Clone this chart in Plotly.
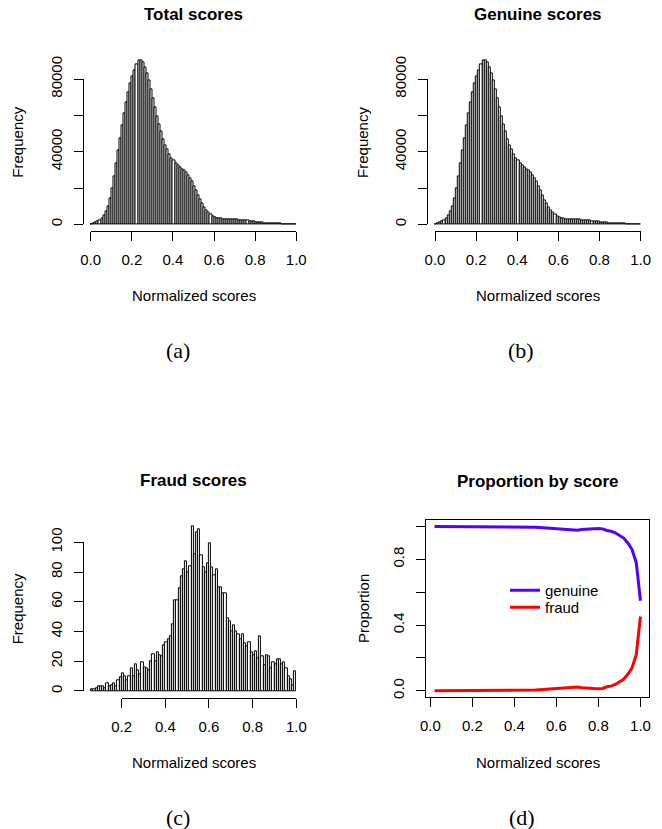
import numpy as np
import plotly.graph_objects as go

W, H = 662, 829

# ---------------- data ----------------
score_ticks = [0.0, 0.2, 0.4, 0.6, 0.8, 1.0]
score_ticktext = ["0.0", "0.2", "0.4", "0.6", "0.8", "1.0"]
fraud_xticks = [0.2, 0.4, 0.6, 0.8, 1.0]
fraud_xticktext = ["0.2", "0.4", "0.6", "0.8", "1.0"]
freq_ticks = [0, 20000, 40000, 60000, 80000]
freq_ticktext = ["0", "", "40000", "", "80000"]
fraud_yticks = [0, 20, 40, 60, 80, 100]
fraud_yticktext = ["0", "20", "40", "60", "80", "100"]
prop_ticks = [0.0, 0.2, 0.4, 0.6, 0.8, 1.0]
prop_ticktext = ["0.0", "", "0.4", "", "0.8", ""]

bin_width = 0.01
total_bin_left = np.round(np.arange(0.00, 1.00, bin_width), 2)   # 100 bins
fraud_bin_left = np.round(np.arange(0.06, 1.00, bin_width), 2)   # 94 bins

total_counts = [
    200, 500, 900, 1400, 2200, 3300, 4800, 7000, 10000, 14500,
    20000, 26500, 33500, 40500, 47500, 54500, 61000, 67000, 72500, 77500,
    81500, 85000, 88000, 90000, 90500, 89000, 86500, 83000, 79000, 74500,
    69500, 64500, 59500, 55000, 51000, 47000, 43500, 41000, 38500, 36500,
    35000, 33500, 32500, 31500, 30500, 29500, 28500, 27000, 25500, 23500,
    21000, 18500, 16000, 13500, 11500, 9500, 7800, 6400, 5300, 4500,
    3900, 3500, 3200, 3000, 2900, 2800, 2750, 2700, 2650, 2600,
    2550, 2450, 2350, 2250, 2150, 2050, 1900, 1750, 1600, 1450,
    1300, 1150, 1000, 880, 780, 680, 600, 520, 460, 400,
    350, 300, 260, 230, 200, 170, 150, 120, 100, 80,
]

genuine_counts = [
    200, 500, 900, 1400, 2200, 3300, 4800, 7000, 10000, 14500,
    20000, 26500, 33500, 40500, 47500, 54500, 61000, 67000, 72500, 77500,
    81500, 85000, 88000, 90000, 90500, 89000, 86500, 83000, 79000, 74500,
    69500, 64500, 59500, 55000, 51000, 47000, 43500, 41000, 38500, 36450,
    34950, 33450, 32450, 31450, 30450, 29450, 28430, 26920, 25420, 23410,
    20920, 18420, 15890, 13410, 11390, 9390, 7710, 6320, 5220, 4410,
    3800, 3420, 3120, 2920, 2830, 2730, 2680, 2630, 2600, 2550,
    2510, 2410, 2310, 2210, 2110, 2010, 1870, 1720, 1570, 1420,
    1280, 1120, 980, 850, 760, 660, 580, 500, 440, 380,
    330, 280, 240, 210, 180, 150, 140, 110, 95, 70,
]

fraud_counts = [
    1, 1, 2, 3, 3, 3, 2, 5, 3, 4,
    5, 3, 7, 9, 12, 10, 7, 10, 15, 10,
    18, 14, 11, 19, 16, 15, 14, 20, 25, 20,
    26, 24, 23, 31, 33, 35, 37, 45, 61, 61,
    69, 77, 82, 87, 80, 84, 111, 92, 107, 109,
    91, 83, 80, 86, 99, 83, 78, 82, 70, 70,
    66, 66, 49, 47, 40, 44, 40, 38, 35, 38,
    32, 30, 33, 26, 24, 27, 22, 37, 23, 17,
    24, 23, 15, 19, 18, 21, 21, 18, 19, 15,
    10, 8, 4, 13,
]

prop_scores = np.round(np.arange(0.02, 1.0001, 0.02), 2)   # 50 points
prop_genuine = [
    1.000, 1.000, 1.000, 1.000, 1.000, 1.000, 1.000, 1.000, 1.000, 1.000,
    1.000, 1.000, 1.000, 1.000, 1.000, 1.000, 1.000, 1.000, 1.000, 1.000,
    0.9995, 0.999, 0.998, 0.997, 0.996, 0.994, 0.992, 0.990, 0.988, 0.986,
    0.983, 0.980, 0.978, 0.977, 0.978, 0.982, 0.985, 0.986, 0.987, 0.988,
    0.986, 0.976, 0.972, 0.962, 0.948, 0.930, 0.900, 0.860, 0.780, 0.548,
]
prop_fraud = [
    0.000, 0.000, 0.000, 0.000, 0.000, 0.000, 0.000, 0.000, 0.000, 0.000,
    0.000, 0.000, 0.000, 0.000, 0.000, 0.000, 0.000, 0.000, 0.000, 0.000,
    0.0005, 0.001, 0.002, 0.003, 0.004, 0.006, 0.008, 0.010, 0.012, 0.014,
    0.017, 0.020, 0.022, 0.023, 0.022, 0.018, 0.015, 0.014, 0.013, 0.012,
    0.014, 0.024, 0.028, 0.038, 0.052, 0.070, 0.100, 0.140, 0.220, 0.452,
]

# ---------------- layout helpers ----------------
FONT = "Liberation Sans, Arial, sans-serif"
SERIF = "Liberation Serif, Times New Roman, serif"


def px_x(p):
    return p / W


def px_y(p):
    return 1 - p / H


fig = go.Figure()
annotations = []

axis_common = dict(
    showgrid=False, zeroline=False, showline=True, linecolor="black", linewidth=1,
    ticks="outside", ticklen=9, tickwidth=1, tickcolor="black", automargin=False,
    ticklabelstandoff=6,
    tickfont=dict(family=FONT, size=15, color="black"),
)


def hist_panel(idx, box, centers, counts, xr_data, vis_x, vis_y, xt, xtt, yt, ytt,
               title, caption, cap_xy):
    L, R, T, B = box
    M = max(counts)
    x0, x1 = xr_data
    y0, y1 = -0.04 * M, 1.04 * M
    dx, dy = f"x{idx}" if idx > 1 else "x", f"y{idx}" if idx > 1 else "y"
    vx, vy = f"x{idx + 1}", f"y{idx + 1}"
    fig.add_trace(go.Bar(
        x=centers, y=counts, width=bin_width, xaxis=dx, yaxis=dy,
        marker=dict(color="white", line=dict(color="black", width=1.0)),
        showlegend=False, hoverinfo="x+y",
    ))
    fig.add_trace(go.Scatter(x=[None], y=[None], xaxis=vx, yaxis=vy,
                             showlegend=False, hoverinfo="skip"))
    kx = "xaxis" if idx == 1 else f"xaxis{idx}"
    ky = "yaxis" if idx == 1 else f"yaxis{idx}"
    fig.layout[kx] = dict(domain=[px_x(L), px_x(R)], range=[x0, x1], visible=False,
                          anchor=dy, automargin=False)
    fig.layout[ky] = dict(domain=[px_y(B), px_y(T)], range=[y0, y1], visible=False,
                          anchor=dx, automargin=False)

    # visible (detached) axes, R style
    def xp(v):
        return L + (v - x0) / (x1 - x0) * (R - L)

    def yp(v):
        return B - (v - y0) / (y1 - y0) * (B - T)

    fig.layout[f"xaxis{idx + 1}"] = dict(
        domain=[px_x(xp(vis_x[0])), px_x(xp(vis_x[1]))], range=list(vis_x),
        anchor="free", position=px_y(B), tickvals=xt, ticktext=xtt, **axis_common)
    fig.layout[f"yaxis{idx + 1}"] = dict(
        domain=[px_y(yp(vis_y[0])), px_y(yp(vis_y[1]))], range=list(vis_y),
        anchor="free", position=px_x(L), tickvals=yt, ticktext=ytt, tickangle=-90,
        **axis_common)
    cx = (L + R) / 2
    annotations.append(dict(text=f"<b>{title}</b>", x=px_x(cx), y=px_y(T - 38.5),
                            font=dict(family=FONT, size=17, color="black")))
    annotations.append(dict(text="Normalized scores", x=px_x(cx), y=px_y(B + 65),
                            font=dict(family=FONT, size=15, color="black")))
    annotations.append(dict(text="Frequency", x=px_x(L - 65), y=px_y((T + B) / 2),
                            textangle=-90, font=dict(family=FONT, size=15, color="black")))
    annotations.append(dict(text=caption, x=px_x(cap_xy[0]), y=px_y(cap_xy[1]),
                            font=dict(family=SERIF, size=22, color="black")))


total_centers = total_bin_left + bin_width / 2
fraud_centers = fraud_bin_left + bin_width / 2

hist_panel(1, (82.5, 304.5, 53.4, 230.9), total_centers, total_counts, (-0.04, 1.04),
           (0, 1), (0, 80000), score_ticks, score_ticktext, freq_ticks, freq_ticktext,
           "Total scores", "(a)", (178, 350))
hist_panel(3, (426.8, 648.8, 53.4, 230.9), total_centers, genuine_counts, (-0.04, 1.04),
           (0, 1), (0, 80000), score_ticks, score_ticktext, freq_ticks, freq_ticktext,
           "Genuine scores", "(b)", (521, 350))
fx0 = 0.06 - 0.04 * 0.94
fx1 = 1.0 + 0.04 * 0.94
hist_panel(5, (82.9, 304.5, 519.3, 697.6), fraud_centers, fraud_counts, (fx0, fx1),
           (0.2, 1.0), (0, 100), fraud_xticks, fraud_xticktext, fraud_yticks,
           fraud_yticktext, "Fraud scores", "(c)", (178, 817))

# ---------------- panel (d) ----------------
L, R, T, B = 426.3, 648.7, 520.0, 697.3
fig.add_trace(go.Scatter(x=prop_scores, y=prop_genuine, mode="lines", name="genuine",
                         line=dict(color="#5500FF", width=3), xaxis="x7", yaxis="y7",
                         legend="legend"))
fig.add_trace(go.Scatter(x=prop_scores, y=prop_fraud, mode="lines", name="fraud",
                         line=dict(color="#FF0000", width=3), xaxis="x7", yaxis="y7",
                         legend="legend2"))
px0 = 0.02 - 0.04 * 0.98
px1 = 1.0 + 0.04 * 0.98
fig.layout["xaxis7"] = dict(domain=[px_x(L), px_x(R)], range=[px0, px1], anchor="y7",
                            mirror=True, tickvals=prop_ticks, ticktext=score_ticktext,
                            **axis_common)
fig.layout["yaxis7"] = dict(domain=[px_y(B), px_y(T)], range=[-0.04, 1.04], anchor="x7",
                            mirror=True, tickvals=prop_ticks, ticktext=prop_ticktext,
                            tickangle=-90, **axis_common)
cx = (L + R) / 2
annotations.append(dict(text="<b>Proportion by score</b>", x=px_x(cx), y=px_y(T - 38.5),
                        font=dict(family=FONT, size=17, color="black")))
annotations.append(dict(text="Normalized scores", x=px_x(cx), y=px_y(B + 65),
                        font=dict(family=FONT, size=15, color="black")))
annotations.append(dict(text="Proportion", x=px_x(L - 63), y=px_y((T + B) / 2),
                        textangle=-90, font=dict(family=FONT, size=15, color="black")))
annotations.append(dict(text="(d)", x=px_x(522), y=px_y(817),
                        font=dict(family=SERIF, size=22, color="black")))

for a in annotations:
    a.update(xref="paper", yref="paper", showarrow=False, xanchor="center",
             yanchor="middle")

legend_style = dict(xanchor="left", yanchor="top", bgcolor="rgba(0,0,0,0)",
                    font=dict(family=FONT, size=15, color="black"),
                    tracegroupgap=0, itemwidth=30)

fig.update_layout(
    width=W, height=H, margin=dict(l=0, r=0, t=0, b=0, pad=0, autoexpand=False),
    paper_bgcolor="white", plot_bgcolor="rgba(0,0,0,0)",
    bargap=0, barmode="overlay",
    annotations=annotations,
    showlegend=True,
    legend=dict(x=px_x(505), y=px_y(574), **legend_style),
    legend2=dict(x=px_x(505), y=px_y(591), **legend_style),
)

fig.write_html("out.html",
               config={"displayModeBar": False},
               post_script="document.body.style.margin='0px';"
                           "document.body.style.overflow='hidden';")
